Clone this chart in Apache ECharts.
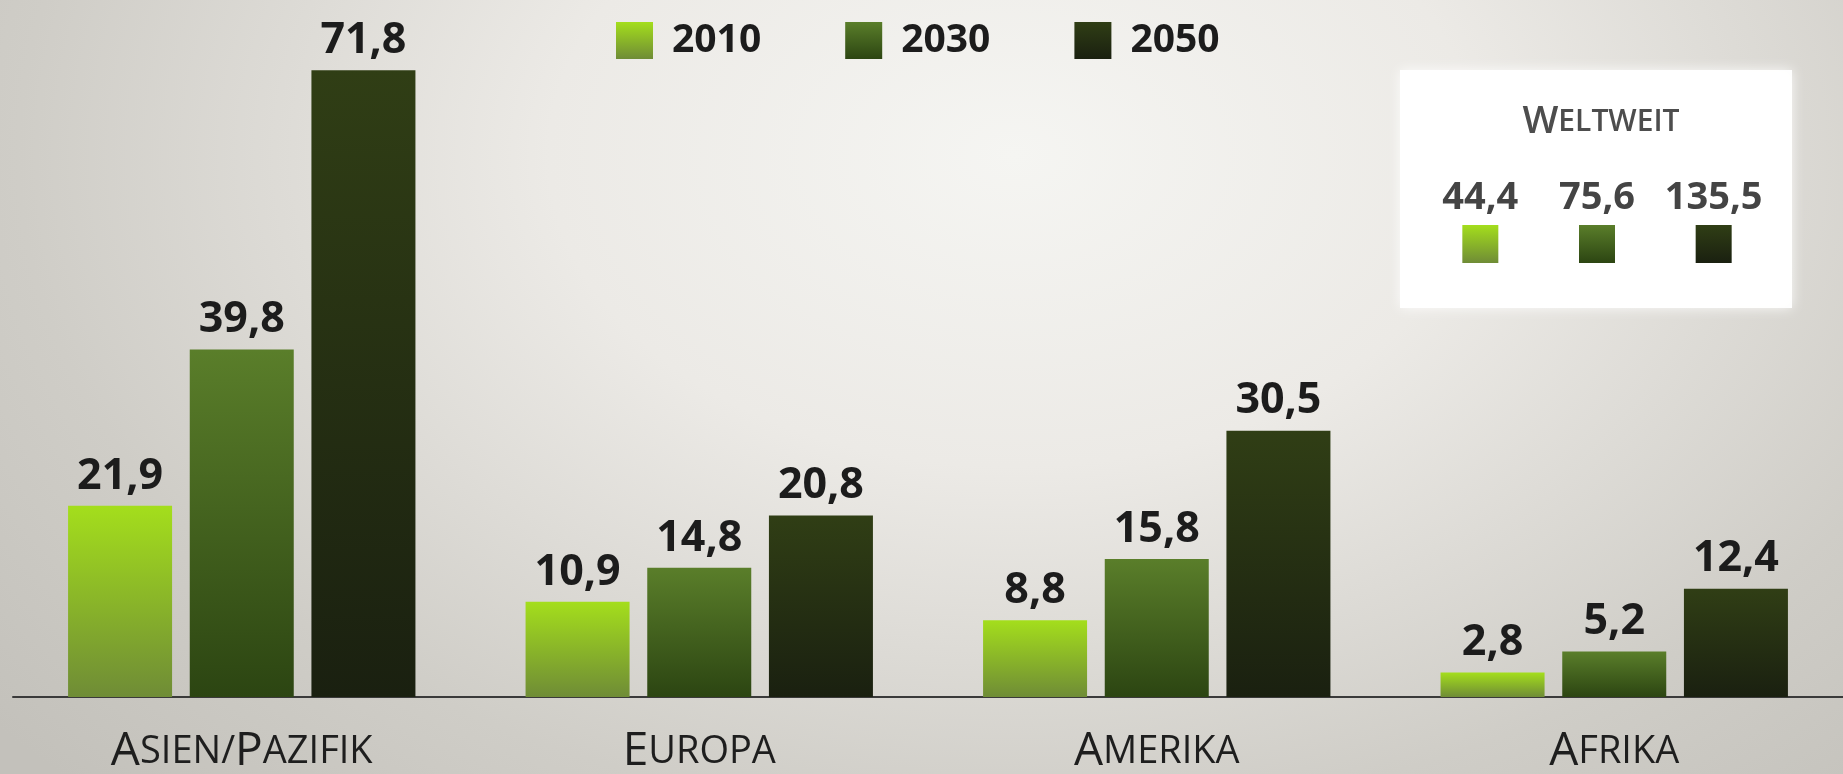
<!DOCTYPE html>
<html><head><meta charset="utf-8">
<script src="https://cdn.jsdelivr.net/npm/echarts@6/dist/echarts.min.js"></script>
<style>
html,body{margin:0;padding:0;width:1843px;height:774px;overflow:hidden;}
body{background: radial-gradient(ellipse 72% 115% at 55% 20%, #f5f5f2 0%, #eceae6 35%, #cfcdc7 75%, #c3c1bb 100%);}
#chart{width:1843px;height:774px;}
</style></head><body><div id="chart"></div>
<script>
const categories = ['Asien/Pazifik', 'Europa', 'Amerika', 'Afrika'];
const years = ['2010', '2030', '2050'];
const values2010 = [21.9, 10.9, 8.8, 2.8];
const values2030 = [39.8, 14.8, 15.8, 5.2];
const values2050 = [71.8, 20.8, 30.5, 12.4];
const worldTotals = [44.4, 75.6, 135.5];
const worldTitle = 'Weltweit';

const FONT = '"Open Sans", "DejaVu Sans", sans-serif';
function grad(top, bottom) {
  return new echarts.graphic.LinearGradient(0, 0, 0, 1, [
    { offset: 0, color: top }, { offset: 1, color: bottom }
  ]);
}
const colorStops = [
  ['#a4de1c', '#6f8c36'],
  ['#5a7e2a', '#2c4512'],
  ['#303e15', '#1a2010']
];
const fmt = v => v.toFixed(1).replace('.', ',');
function smallCaps(s, big, small) {
  let out = '', buf = '', start = true;
  const flush = () => { if (buf) { out += '{' + small + '|' + buf + '}'; buf = ''; } };
  for (const ch of s) {
    if (/\p{L}/u.test(ch)) {
      if (start) { flush(); out += '{' + big + '|' + ch.toUpperCase() + '}'; start = false; }
      else buf += ch.toUpperCase();
    } else { buf += ch; start = true; }
  }
  flush();
  return out;
}

const seriesValues = [values2010, values2030, values2050];
const chart = echarts.init(document.getElementById('chart'), null, { renderer: 'canvas' });

const barSeries = years.map((y, i) => ({
  name: y,
  type: 'bar',
  xAxisIndex: 0, yAxisIndex: 0,
  data: seriesValues[i],
  barWidth: 104,
  barGap: '17%',
  itemStyle: { color: grad(colorStops[i][0], colorStops[i][1]) },
  label: {
    show: true, position: 'top', distance: 8,
    formatter: p => fmt(p.value),
    fontFamily: FONT, fontWeight: 'bold', fontSize: 43, color: '#1c1c1c'
  },
  z: 3
}));

const option = {
  backgroundColor: 'transparent',
  animation: false,
  title: {
    text: smallCaps(worldTitle, 'b', 's'),
    left: 1596, top: 98, textAlign: 'center',
    textStyle: {
      rich: {
        b: { fontFamily: FONT, fontSize: 38, fontWeight: 600, color: '#4d4d4d' },
        s: { fontFamily: FONT, fontSize: 30, fontWeight: 600, color: '#4d4d4d' }
      }
    }
  },
  legend: {
    data: years,
    left: 611, top: 16,
    icon: 'rect',
    itemWidth: 37, itemHeight: 37,
    itemGap: 84,
    textStyle: { fontFamily: FONT, fontWeight: 'bold', fontSize: 39, color: '#1c1c1c', padding: [0, 0, 0, 14] },
    selectedMode: false
  },
  graphic: [{
    type: 'rect', z: 0,
    shape: { x: 1400, y: 70, width: 392, height: 238 },
    style: { fill: 'rgba(255,255,255,0.96)', shadowBlur: 12, shadowColor: 'rgba(255,255,255,0.9)' }
  }],
  grid: [
    { left: 13, right: 0, top: 16, bottom: 77, outerBoundsMode: 'none', containLabel: false },
    { left: 1422, width: 350, top: 225, height: 38, outerBoundsMode: 'none', containLabel: false }
  ],
  xAxis: [
    {
      type: 'category', data: categories, gridIndex: 0,
      axisLine: { show: true, lineStyle: { color: '#3a3a3a', width: 2 } },
      axisTick: { show: false },
      axisLabel: {
        margin: 30,
        formatter: v => smallCaps(v, 'b', 's'),
        rich: {
          b: { fontFamily: FONT, fontSize: 46, color: '#1e1e1e', lineHeight: 50 },
          s: { fontFamily: FONT, fontSize: 38, color: '#1e1e1e', lineHeight: 50 }
        }
      }
    },
    { type: 'category', data: years, gridIndex: 1, show: false }
  ],
  yAxis: [
    { type: 'value', min: 0, max: 78, gridIndex: 0, show: false, splitLine: { show: false } },
    { type: 'value', min: 0, max: 1, gridIndex: 1, show: false, splitLine: { show: false } }
  ],
  series: barSeries.concat([{
    name: worldTitle,
    type: 'scatter',
    xAxisIndex: 1, yAxisIndex: 1,
    symbol: 'rect',
    symbolSize: [36, 38],
    data: worldTotals.map((v, i) => ({ value: [i, 0.5], itemStyle: { opacity: 1, color: grad(colorStops[i][0], colorStops[i][1]) } })),
    itemStyle: { opacity: 1 },
    label: {
      show: true, position: 'top', distance: 8,
      formatter: p => fmt(worldTotals[p.dataIndex]),
      fontFamily: FONT, fontWeight: 'bold', fontSize: 38, color: '#444444', opacity: 1
    },
    z: 4
  }])
};
chart.setOption(option);
</script></body></html>
